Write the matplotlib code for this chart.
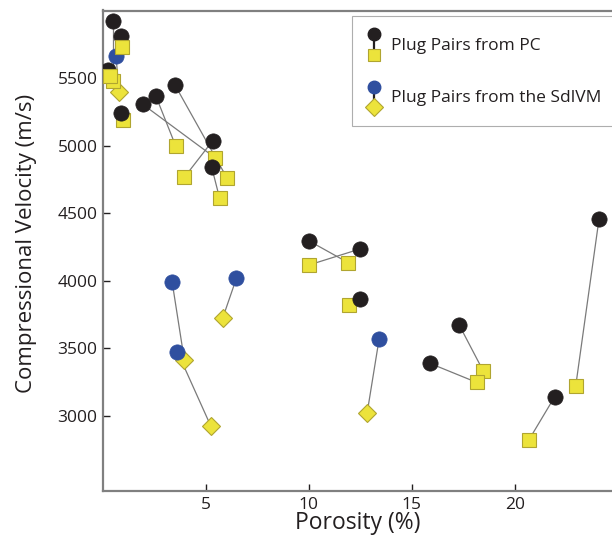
import matplotlib
matplotlib.use("Agg")
import matplotlib.pyplot as plt
from matplotlib.legend_handler import HandlerBase
from matplotlib.lines import Line2D

# ---- data: Plug pairs from PC (black circle -> yellow square) ----
pc_circle_x = [0.49, 0.87, 0.24, 0.87, 1.93, 2.56, 3.50, 5.33, 5.28, 10.01, 12.49, 12.49, 17.30, 15.87, 21.94, 24.09]
pc_circle_y = [5923, 5812, 5560, 5242, 5306, 5370, 5447, 5037, 4840, 4295, 4236, 3866, 3673, 3390, 3143, 4458]
pc_square_x = [0.49, 0.92, 0.35, 0.99, 5.44, 3.53, 6.03, 3.95, 5.66, 11.91, 10.00, 11.96, 18.46, 18.14, 20.68, 22.96]
pc_square_y = [5479, 5730, 5516, 5190, 4911, 4998, 4759, 4766, 4613, 4134, 4117, 3821, 3335, 3249, 2822, 3224]
pc_square_on_top = [True, True, True, False, False, False, False, False, False, False, False, False, False, False, False, False]

# ---- data: Plug pairs from the SdlVM (blue circle -> yellow diamond) ----
sd_circle_x = [0.63, 3.36, 3.61, 6.48, 13.41]
sd_circle_y = [5664, 3989, 3476, 4019, 3570]
sd_diamond_x = [0.78, 3.95, 5.24, 5.81, 12.83]
sd_diamond_y = [5397, 3414, 2924, 3723, 3024]

x_ticks = [5, 10, 15, 20]
y_ticks = [3000, 3500, 4000, 4500, 5000, 5500]
labels = ["Plug Pairs from PC", "Plug Pairs from the SdlVM"]

BLACK = "#231f20"
BLUE = "#2f4f9f"
YELLOW = "#ece33b"
YEDGE = "#b0a530"
LINEC = "#7a7a7a"
TEXTC = "#231f20"

plt.rcParams['font.family'] = ['Open Sans', 'DejaVu Sans']

fig = plt.figure(figsize=(6.12, 5.35), dpi=100)
ax = fig.add_axes([103/612, 1-491/535, 1-103/612, (491-10.5)/535])

z = 2
# SdlVM pairs
for cx, cy, dx, dy in zip(sd_circle_x, sd_circle_y, sd_diamond_x, sd_diamond_y):
    ax.plot([cx, dx], [cy, dy], color=LINEC, lw=0.9, zorder=1)
    ax.plot(dx, dy, marker='D', ms=9.5, mfc=YELLOW, mec=YEDGE, mew=0.8, ls='none', zorder=z)
    ax.plot(cx, cy, marker='o', ms=11, mfc=BLUE, mec=BLUE, mew=0.5, ls='none', zorder=z+1)
    z += 2

# PC pairs
for cx, cy, sx, sy, top in zip(pc_circle_x, pc_circle_y, pc_square_x, pc_square_y, pc_square_on_top):
    ax.plot([cx, sx], [cy, sy], color=LINEC, lw=0.9, zorder=1)
    zs, zc = (z+1, z) if top else (z, z+1)
    ax.plot(sx, sy, marker='s', ms=10, mfc=YELLOW, mec=YEDGE, mew=0.8, ls='none', zorder=zs)
    ax.plot(cx, cy, marker='o', ms=11, mfc=BLACK, mec=BLACK, mew=0.5, ls='none', zorder=zc)
    z += 2

ax.set_xlim(0, 24.72)
ax.set_ylim(2445, 6000)
ax.set_xticks(x_ticks)
ax.set_yticks(y_ticks)
ax.set_xticklabels([str(t) for t in x_ticks])
ax.set_yticklabels([str(t) for t in y_ticks])

for side in ['left', 'bottom', 'top']:
    ax.spines[side].set_color('#808080')
    ax.spines[side].set_linewidth(1.6)
ax.spines['right'].set_visible(False)
ax.tick_params(direction='in', length=5, width=1, color=TEXTC, labelsize=12.5, labelcolor=TEXTC, pad=4)
ax.set_xlabel("Porosity (%)", fontsize=16.5, color=TEXTC, labelpad=-1)
ax.set_ylabel("Compressional Velocity (m/s)", fontsize=16, color=TEXTC)
ax.yaxis.set_label_coords(-0.13, 0.515)


class PairProxy:
    def __init__(self, top_color, bot_marker):
        self.top_color = top_color
        self.bot_marker = bot_marker


class PairHandler(HandlerBase):
    def create_artists(self, legend, orig_handle, xdescent, ydescent, width, height, fontsize, trans):
        cx = width / 2 - xdescent
        cy = -ydescent + height / 2
        ytop = cy + 7.4
        ybot = cy - 7.4
        ms_bot = 8.5 if orig_handle.bot_marker == 's' else 9
        bot = Line2D([cx, cx], [ybot, ytop], color=BLACK, lw=1.6, ls='-',
                     marker=orig_handle.bot_marker, markevery=[0], ms=ms_bot,
                     mfc=YELLOW, mec=YEDGE, mew=0.8, transform=trans)
        top = Line2D([cx], [ytop], marker='o', ms=9, mfc=orig_handle.top_color,
                     mec=orig_handle.top_color, ls='none', transform=trans)
        return [bot, top]


handles = [PairProxy(BLACK, 's'), PairProxy(BLUE, 'D')]
leg = ax.legend(handles, labels, handler_map={PairProxy: PairHandler()},
                loc='upper right', bbox_to_anchor=(1.0 + 2/509, 1 - 5.5/480.5), frameon=True, fancybox=False,
                fontsize=12.5, handlelength=1.0, handleheight=2.4, handletextpad=0.45,
                labelspacing=1.2, borderpad=0.75, borderaxespad=0)
leg.get_frame().set_edgecolor('#9a9a9a')
leg.get_frame().set_linewidth(0.8)
for t in leg.get_texts():
    t.set_color(TEXTC)

fig.savefig("out.png", dpi=100)
